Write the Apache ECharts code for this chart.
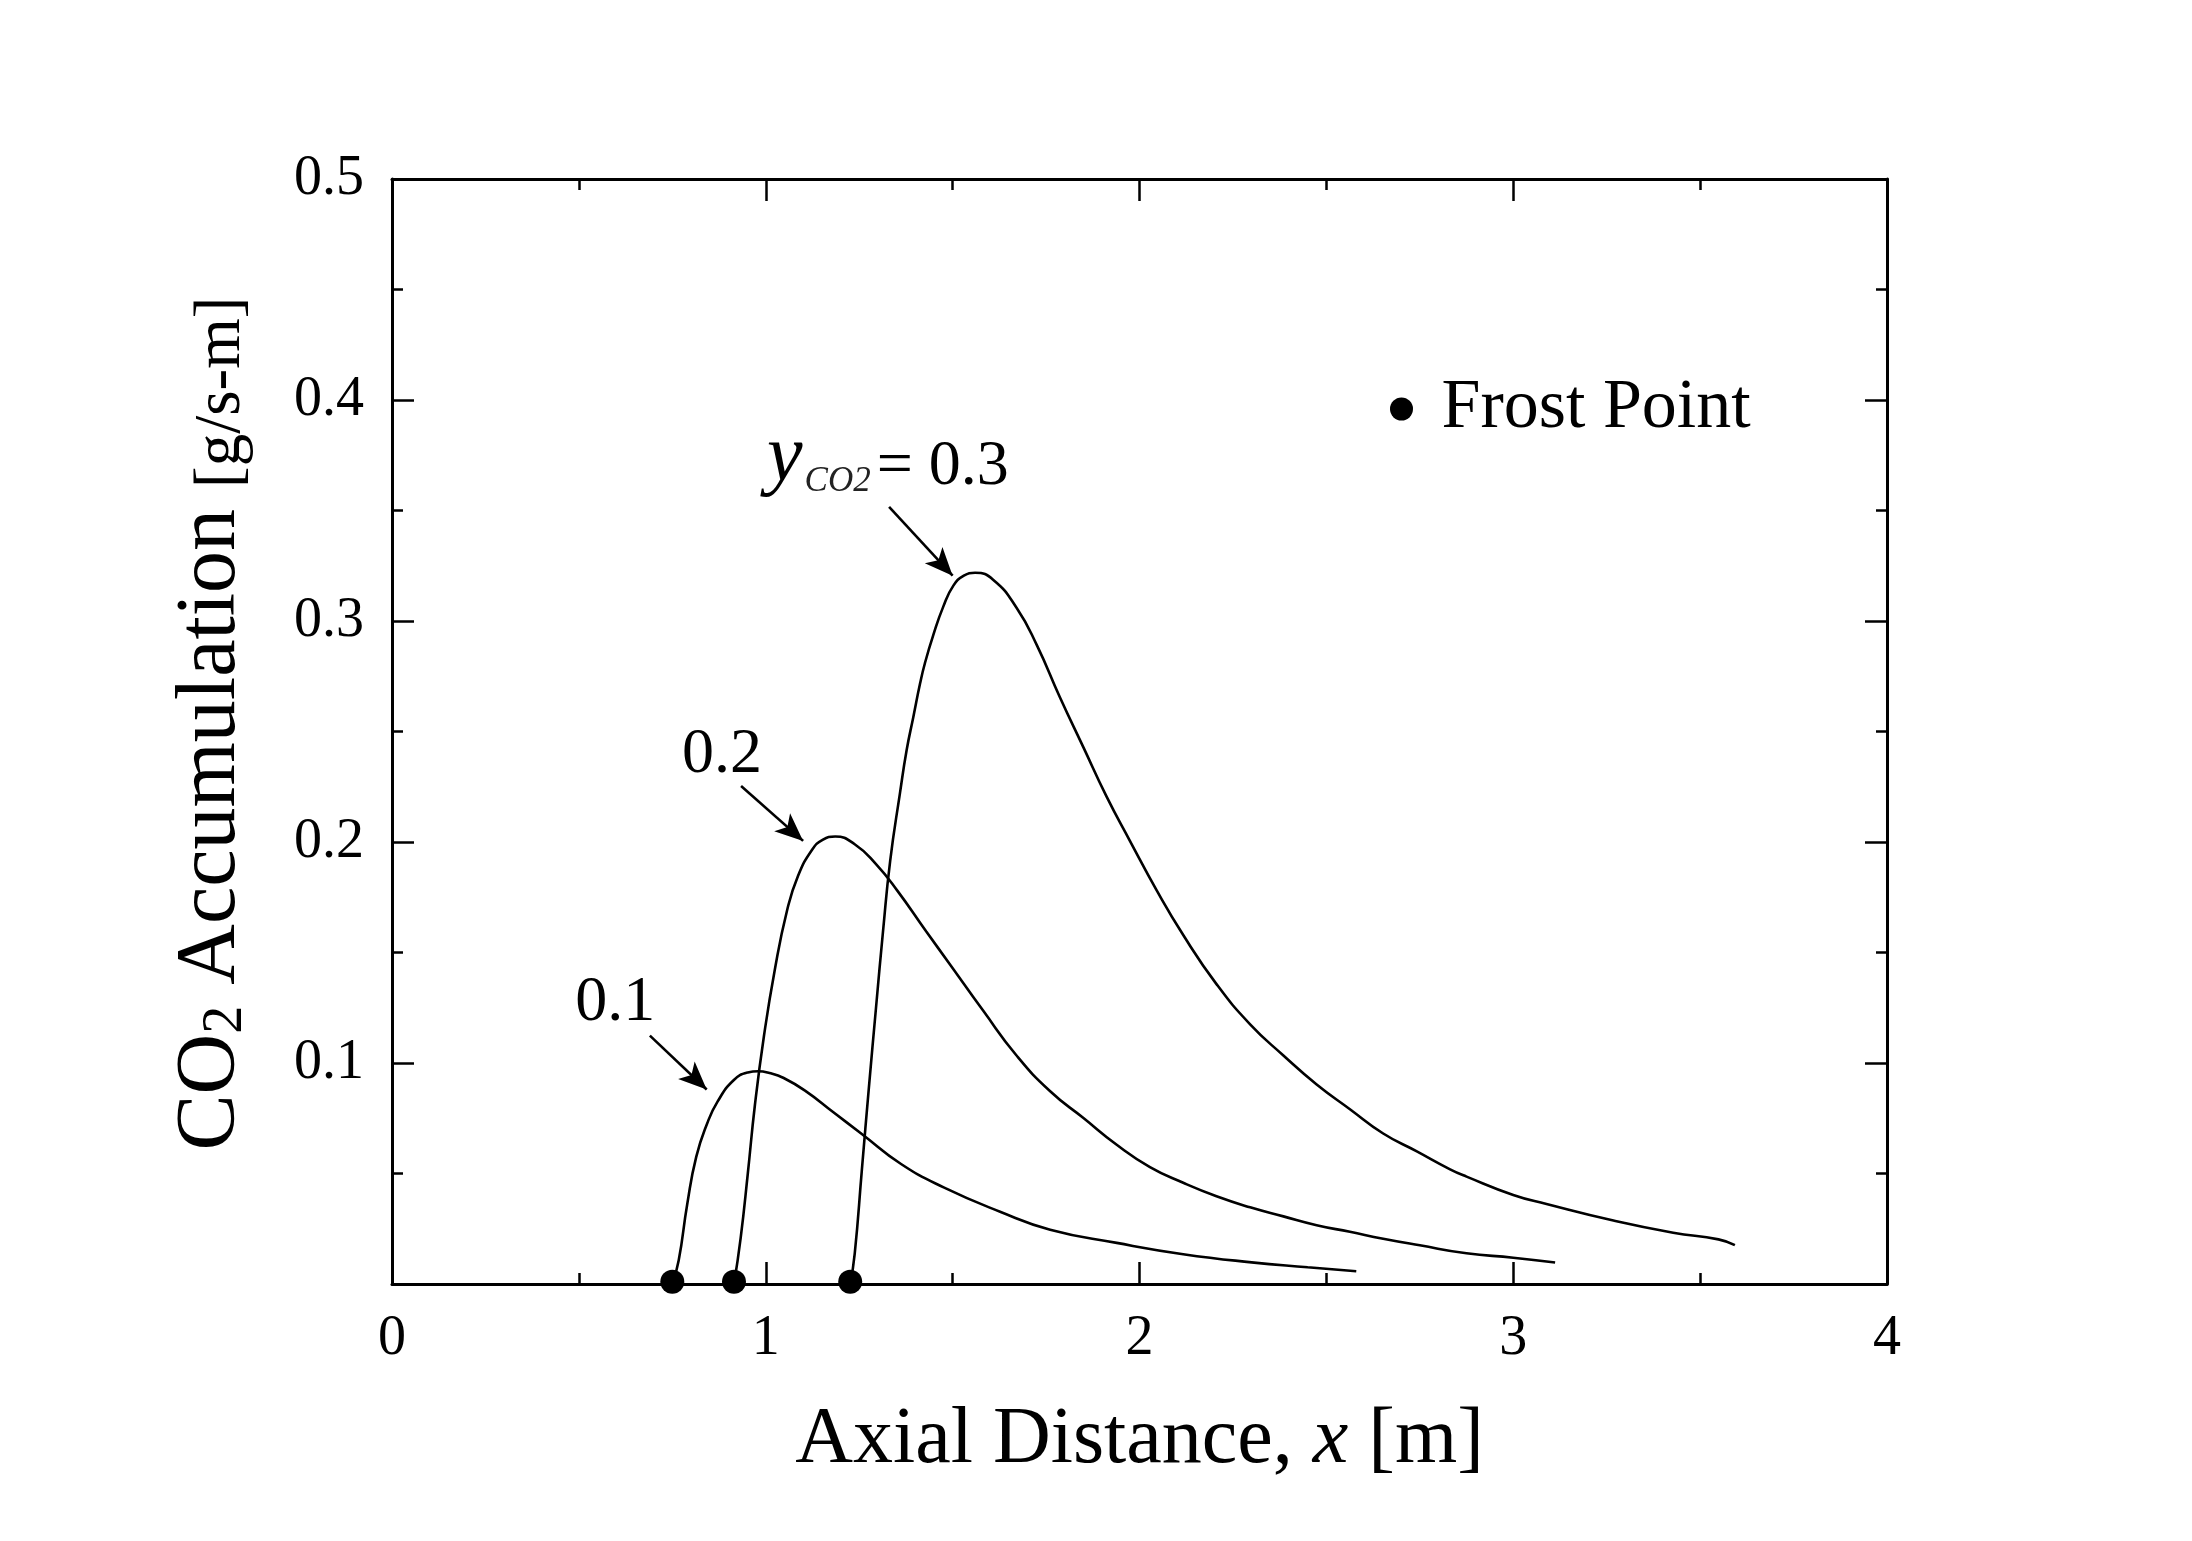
<!DOCTYPE html>
<html><head><meta charset="utf-8">
<script src="https://cdn.jsdelivr.net/npm/echarts@6/dist/echarts.min.js"></script>
<style>html,body{margin:0;padding:0;background:#fff}#c{width:2192px;height:1541px}</style>
</head><body><div id="c"></div>
<script>
// ---- data ----
const xTickLabels = ['0', '1', '2', '3', '4'];
const yTickLabels = ['', '0.1', '0.2', '0.3', '0.4', '0.5'];
const frostX = [0.75, 0.915, 1.226];
const frostY = [0.001, 0.001, 0.001];
const curve01 = [[0.75,0],[0.767,0.0106],[0.79,0.0362],[0.814,0.0575],[0.843,0.0725],[0.871,0.0825],[0.914,0.0922],[0.952,0.0957],[0.98,0.0963],[1.01,0.0955],[1.048,0.0932],[1.105,0.0875],[1.181,0.0777],[1.257,0.0679],[1.362,0.0543],[1.476,0.0437],[1.627,0.0327],[1.761,0.0246],[1.939,0.0186],[2.117,0.0135],[2.3,0.0098],[2.45,0.0076],[2.58,0.0058]];
const curve02 = [[0.915,0],[0.933,0.021],[0.952,0.050],[0.971,0.081],[0.995,0.112],[1.024,0.142],[1.057,0.169],[1.086,0.1845],[1.124,0.1965],[1.152,0.2010],[1.186,0.2025],[1.238,0.199],[1.295,0.190],[1.352,0.178],[1.429,0.1596],[1.493,0.1446],[1.582,0.1236],[1.671,0.1034],[1.761,0.0872],[1.85,0.0751],[1.939,0.063],[2.028,0.0529],[2.117,0.0458],[2.206,0.0397],[2.296,0.0347],[2.385,0.0306],[2.474,0.0266],[2.563,0.0236],[2.652,0.0205],[2.75,0.0175],[2.875,0.0139],[3.0,0.0119],[3.112,0.0097]];
const curve03 = [[1.226,0],[1.238,0.0136],[1.257,0.0513],[1.276,0.089],[1.295,0.125],[1.314,0.160],[1.333,0.1916],[1.359,0.222],[1.377,0.2416],[1.395,0.2567],[1.413,0.2718],[1.426,0.2810],[1.448,0.2935],[1.475,0.3065],[1.502,0.3160],[1.53,0.3205],[1.56,0.3218],[1.609,0.3186],[1.671,0.306],[1.725,0.2892],[1.787,0.2655],[1.85,0.2428],[1.912,0.2205],[1.975,0.2003],[2.046,0.1781],[2.117,0.1579],[2.206,0.1357],[2.296,0.1175],[2.385,0.1034],[2.474,0.0903],[2.563,0.0791],[2.652,0.0681],[2.742,0.060],[2.831,0.0519],[2.875,0.0486],[3.0,0.0403],[3.089,0.0362],[3.268,0.0287],[3.428,0.0232],[3.549,0.0202],[3.593,0.0176]];
const annotationNames = ['0.1', '0.2', '0.3'];
const annotationPos = [[0.597,0.1285],[0.883,0.2407],[1.327,0.374]];
const arrowStart = [[0.690,0.1124],[0.934,0.2253],[1.330,0.3516]];
const arrowEnd = [[0.842,0.0880],[1.100,0.2005],[1.500,0.3205]];

// ---- chart ----
const FONT = 'Liberation Serif';
const BLACK = '#000';
const chart = echarts.init(document.getElementById('c'), null, {renderer: 'canvas'});

function axisCommon(showLabel) {
  return {
    axisLine: {show: true, onZero: false, lineStyle: {color: BLACK, width: 3}},
    axisTick: {show: true, inside: true, length: 22, lineStyle: {color: BLACK, width: 2.5}},
    minorTick: {show: true, splitNumber: 2, length: 11, lineStyle: {color: BLACK, width: 2.5}},
    splitLine: {show: false},
    minorSplitLine: {show: false},
    axisLabel: {show: showLabel}
  };
}

const xBottom = Object.assign(axisCommon(true), {
  type: 'value', min: 0, max: 4, interval: 1, position: 'bottom',
  axisLabel: {show: true, fontFamily: FONT, fontSize: 56, color: BLACK, margin: 27,
    formatter: (v) => xTickLabels[Math.round(v)]},
  name: '{a|Axial Distance, }{i|x}{a| [m]}',
  nameLocation: 'middle', nameGap: 117,
  nameTextStyle: {fontFamily: FONT, color: BLACK, rich: {
    a: {fontFamily: FONT, fontSize: 80, color: BLACK},
    i: {fontFamily: FONT, fontSize: 80, fontStyle: 'italic', color: BLACK}
  }}
});
const xTop = Object.assign(axisCommon(false), {type: 'value', min: 0, max: 4, interval: 1, position: 'top'});

const yLeft = Object.assign(axisCommon(true), {
  type: 'value', min: 0, max: 0.5, interval: 0.1, position: 'left',
  axisLabel: {show: true, fontFamily: FONT, fontSize: 56, color: BLACK, margin: 28,
    formatter: (v) => yTickLabels[Math.round(v * 10)]},
  name: '{a|CO}{s|2}{a| Accumulation }{b|[g/s-m]}',
  nameLocation: 'middle', nameGap: 138, nameRotate: 90,
  nameTextStyle: {fontFamily: FONT, color: BLACK, padding: [0, 0, 0, 16], rich: {
    a: {fontFamily: FONT, fontSize: 84, lineHeight: 94, verticalAlign: 'bottom', color: BLACK},
    s: {fontFamily: FONT, fontSize: 56, lineHeight: 58, verticalAlign: 'bottom', color: BLACK},
    b: {fontFamily: FONT, fontSize: 65, lineHeight: 74, verticalAlign: 'bottom', color: BLACK}
  }}
});
const yRight = Object.assign(axisCommon(false), {type: 'value', min: 0, max: 0.5, interval: 0.1, position: 'right'});

function lineSeries(name, data) {
  return {
    name: name, type: 'line', data: data, showSymbol: false, smooth: 0.5,
    lineStyle: {color: BLACK, width: 2.6}, itemStyle: {color: BLACK},
    silent: true, animation: false, z: 3
  };
}

const option = {
  backgroundColor: '#fff',
  animation: false,
  grid: {left: 392, top: 179, width: 1495, height: 1105, containLabel: false},
  xAxis: [xBottom, xTop],
  yAxis: [yLeft, yRight],
  legend: {
    data: ['Frost Point'], left: 1390, top: 371, padding: 0,
    itemWidth: 70, itemHeight: 23, icon: 'circle',
    itemStyle: {opacity: 1, color: BLACK},
    textStyle: {fontFamily: FONT, fontSize: 70, color: BLACK, lineHeight: 76},
    selectedMode: false
  },
  series: [
    lineSeries('y=0.1', curve01),
    lineSeries('y=0.2', curve02),
    lineSeries('y=0.3', curve03),
    {
      name: 'Frost Point', type: 'scatter', symbol: 'circle', symbolSize: 24,
      data: frostX.map((x, i) => [x, frostY[i]]),
      itemStyle: {color: BLACK, opacity: 1}, clip: false, z: 5, animation: false
    },
    {
      name: 'annotations', type: 'scatter', symbolSize: 0, clip: false, silent: true, animation: false,
      itemStyle: {opacity: 1},
      data: annotationNames.map((n, i) => ({name: n, value: annotationPos[i]})),
      label: {
        show: true, position: 'inside', color: BLACK, fontFamily: FONT, fontSize: 64,
        formatter: (p) => p.name === '0.3' ? '{y|y}{c|CO2}{m|= 0.3}' : '{n|' + p.name + '}',
        rich: {
          y: {fontFamily: FONT, fontStyle: 'italic', fontSize: 80, lineHeight: 84, verticalAlign: 'bottom', color: BLACK},
          c: {fontFamily: FONT, fontStyle: 'italic', fontSize: 35, lineHeight: 42, verticalAlign: 'bottom', color: '#222', padding: [0, 0, 0, 2]},
          m: {fontFamily: FONT, fontSize: 64, lineHeight: 70, verticalAlign: 'bottom', color: BLACK, padding: [0, 0, 0, 6]},
          n: {fontFamily: FONT, fontSize: 64, lineHeight: 70, verticalAlign: 'bottom', color: BLACK}
        }
      },
      markLine: {
        silent: true, animation: false, symbol: ['none', 'arrow'], symbolSize: [18, 28],
        lineStyle: {color: BLACK, width: 2.6, type: 'solid', opacity: 1},
        label: {show: false},
        data: arrowStart.map((s, i) => [{coord: s}, {coord: arrowEnd[i]}])
      }
    }
  ]
};
chart.setOption(option);
</script>
</body></html>
